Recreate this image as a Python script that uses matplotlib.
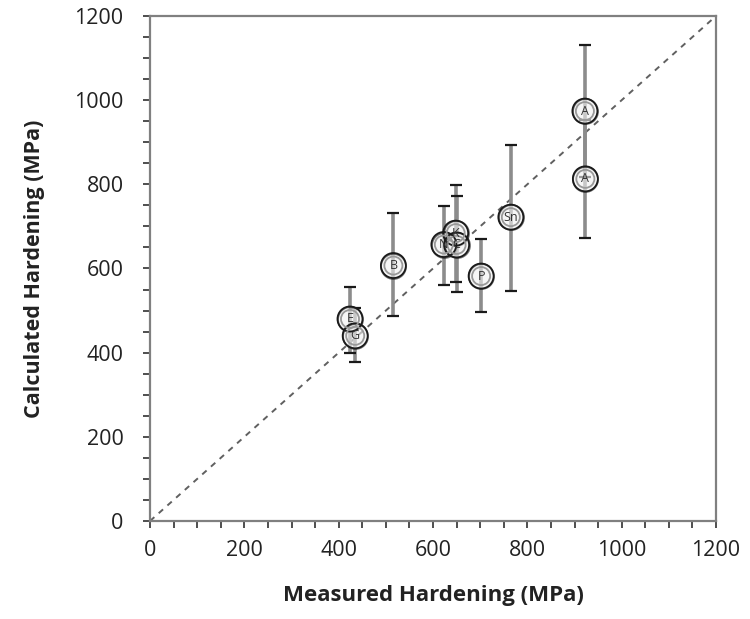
import matplotlib
matplotlib.use("Agg")
import matplotlib.pyplot as plt
import numpy as np

labels = ["E", "G", "B", "N", "K", "C", "P", "Sn", "A", "A"]
measured = [424, 435, 516, 623, 648, 650, 702, 765, 922, 923]
calculated = [480, 440, 607, 657, 684, 656, 582, 722, 974, 813]
err_upper = [556, 507, 731, 749, 798, 773, 669, 893, 1131, 953]
err_lower = [399, 377, 486, 561, 569, 545, 497, 546, 817, 673]

plt.rcParams['font.family'] = ['Open Sans', 'DejaVu Sans']

fig = plt.figure(figsize=(7.5, 6.19), dpi=100)
ax = fig.add_axes([0.2, 0.1583, 0.7547, 0.8159])

ax.plot([0, 1200], [0, 1200], linestyle=(0, (3, 3)), color='#606060', lw=1.4, zorder=1)

m = np.array(measured)
c = np.array(calculated)
yerr = np.vstack([c - np.array(err_lower), np.array(err_upper) - c])
ax.errorbar(m, c, yerr=yerr, fmt='none', ecolor='#8c8c8c', elinewidth=2.6,
            capsize=0, zorder=2)
ax.errorbar(m, c, yerr=yerr, fmt='none', ecolor='#1a1a1a', elinewidth=0,
            capsize=4, capthick=1.6, zorder=2.5)

ax.scatter(m, c, s=18**2, facecolor='#f0f0f0', edgecolor='#1a1a1a', linewidth=1.3, zorder=3, alpha=0.6)
ax.scatter(m, c, s=18**2, facecolor='none', edgecolor='#1a1a1a', linewidth=1.3, zorder=3.2)
ax.scatter(m, c, s=13**2, facecolor='none', edgecolor='#999999', linewidth=1.3, zorder=3.5)
for x, y, t in zip(measured, calculated, labels):
    ax.text(x, y, t, ha='center', va='center', fontsize=9, color='#333333', zorder=4)

ax.set_xlim(0, 1200)
ax.set_ylim(0, 1200)
ax.set_xticks(np.arange(0, 1201, 200))
ax.set_yticks(np.arange(0, 1201, 200))
ax.set_xticks(np.arange(0, 1201, 50), minor=True)
ax.set_yticks(np.arange(0, 1201, 50), minor=True)
ax.tick_params(which='both', direction='out', length=5, width=1.3, color='#404040',
               labelsize=15.5, labelcolor='#222222')
ax.tick_params(axis='x', pad=9)
ax.tick_params(axis='y', pad=14)

for s in ax.spines.values():
    s.set_color('#808080')
    s.set_linewidth(1.6)

ax.set_xlabel('Measured Hardening (MPa)', fontsize=16, fontweight='bold', color='#222222', labelpad=17)
ax.set_ylabel('Calculated Hardening (MPa)', fontsize=15.5, fontweight='bold', color='#222222', labelpad=21)

fig.savefig('out.png', dpi=100)
